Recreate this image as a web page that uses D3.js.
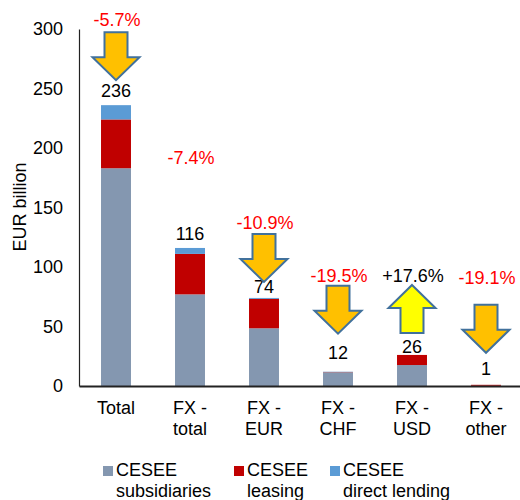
<!DOCTYPE html>
<html>
<head>
<meta charset="utf-8">
<script src="https://cdn.jsdelivr.net/npm/d3@7"></script>
<style>
  body { margin: 0; background: #fff; }
  text { font-family: "Liberation Sans", Arial, sans-serif; }
</style>
</head>
<body>
<svg></svg>
<script>
  let w = 520;
  let h = 500;

// Data
const categories = ['Total', 'FX - total', 'FX - EUR', 'FX - CHF', 'FX - USD', 'FX - other'];
const subsidiaries = [183, 77, 48.5, 11.6, 17.6, 0.2];
const leasing = [41, 34, 24.7, 0.2, 8.5, 0.8];
const directLending = [12, 5, 0.8, 0.2, 0, 0];
const totalLabels = ['236', '116', '74', '12', '26', '1'];
const changes = ['-5.7%', '-7.4%', '-10.9%', '-19.5%', '+17.6%', '-19.1%'];
const arrowDir = ['down', null, 'down', 'down', 'up', 'down'];
const yTicks = [0, 50, 100, 150, 200, 250, 300];
const seriesNames = ['CESEE subsidiaries', 'CESEE leasing', 'CESEE direct lending'];
const colors = ['#8497B0', '#C00000', '#5B9BD5'];

// label layout (pixels above bar top / above value label)
const labelGap = [14, 14, 11, 19, 8, 16];
const pctGap = [71, 76, 64, 77, 71, 91];
const arrowGap = [12, 0, 11, 10, 9, 27];

const svg = d3.select('svg')
  .attr('width', w)
  .attr('height', h);

const rows = categories.map((c, i) => ({
  cat: c, s0: subsidiaries[i], s1: leasing[i], s2: directLending[i]
}));

const stack = d3.stack().keys(['s0', 's1', 's2'])(rows);

// Scales
const x = d3.scaleBand()
  .domain(categories)
  .range([79, 523])
  .padding(0);

const barW = x.bandwidth() * 0.405;

const y = d3.scaleLinear()
  .domain([0, 300])
  .range([386, 29]);

// Bars
svg.selectAll('g.layer')
  .data(stack)
  .enter()
  .append('g')
  .attr('class', 'layer')
  .attr('fill', (d, i) => colors[i])
  .selectAll('rect')
  .data(d => d)
  .enter()
  .append('rect')
  .attr('x', d => x(d.data.cat) + (x.bandwidth() - barW) / 2)
  .attr('y', d => y(d[1]))
  .attr('width', barW)
  .attr('height', d => y(d[0]) - y(d[1]));

// Axes
const yAxis = d3.axisLeft(y).tickValues(yTicks).tickSize(0).tickPadding(16);
const gy = svg.append('g')
  .attr('transform', 'translate(79,0)')
  .call(yAxis);
gy.select('.domain').attr('stroke', '#222').attr('stroke-width', 1.2);
gy.selectAll('text')
  .style('font-size', '18px')
  .attr('fill', '#000');

const xAxis = d3.axisBottom(x).tickSize(0).tickFormat('');
const gx = svg.append('g')
  .attr('transform', 'translate(0,386)')
  .call(xAxis);
gx.select('.domain').attr('stroke', '#222').attr('stroke-width', 2);

// Category labels
categories.forEach(c => {
  const parts = c.includes(' - ') ? [c.split(' - ')[0] + ' -', c.split(' - ')[1]] : [c];
  const t = svg.append('text')
    .attr('x', x(c) + x.bandwidth() / 2)
    .attr('y', 414)
    .attr('text-anchor', 'middle')
    .style('font-size', '18px');
  parts.forEach((p, j) => {
    t.append('tspan')
      .attr('x', x(c) + x.bandwidth() / 2)
      .attr('dy', j === 0 ? 0 : 21)
      .text(p);
  });
});

// Y label
svg.append('text')
  .attr('transform', 'translate(26,207) rotate(-90)')
  .attr('text-anchor', 'middle')
  .style('font-size', '18px')
  .text('EUR billion');

// Value labels, arrows, changes
const totals = rows.map(r => r.s0 + r.s1 + r.s2);

categories.forEach((c, i) => {
  const cx = x(c) + x.bandwidth() / 2;
  const labelY = y(totals[i]) - labelGap[i];
  svg.append('text')
    .attr('x', cx)
    .attr('y', labelY)
    .attr('dy', '0.35em')
    .attr('text-anchor', 'middle')
    .style('font-size', '18px')
    .text(totalLabels[i]);

  const pctY = labelY - pctGap[i];
  svg.append('text')
    .attr('x', cx + 1)
    .attr('y', pctY)
    .attr('dy', '0.35em')
    .attr('text-anchor', 'middle')
    .style('font-size', '18px')
    .attr('fill', changes[i].startsWith('-') ? '#FF0000' : '#000')
    .text(changes[i]);

  if (arrowDir[i]) {
    const top = pctY + arrowGap[i];
    const aw = 47, ah = 48, sw = 23, hh = 23;
    let pts;
    if (arrowDir[i] === 'down') {
      pts = [
        [-sw / 2, 0], [sw / 2, 0], [sw / 2, ah - hh], [aw / 2, ah - hh],
        [0, ah], [-aw / 2, ah - hh], [-sw / 2, ah - hh]
      ];
    } else {
      pts = [
        [0, 0], [aw / 2, hh], [sw / 2, hh], [sw / 2, ah],
        [-sw / 2, ah], [-sw / 2, hh], [-aw / 2, hh]
      ];
    }
    svg.append('polygon')
      .attr('points', pts.map(p => [cx + p[0], top + p[1]].join(',')).join(' '))
      .attr('fill', arrowDir[i] === 'down' ? '#FFC000' : '#FFFF00')
      .attr('stroke', '#41719C')
      .attr('stroke-width', 2)
      .attr('stroke-linejoin', 'miter');
  }
});

// Legend
const legendX = [103, 234, 330];
seriesNames.forEach((name, i) => {
  const g = svg.append('g').attr('transform', 'translate(' + legendX[i] + ',466)');
  g.append('rect')
    .attr('width', 10)
    .attr('height', 10)
    .attr('fill', colors[i]);
  const words = name.split(' ');
  const t = g.append('text')
    .attr('x', 13)
    .attr('y', 4)
    .attr('dy', '0.35em')
    .style('font-size', '18px');
  t.append('tspan').attr('x', 13).text(words[0]);
  t.append('tspan').attr('x', 13).attr('dy', 21).text(words.slice(1).join(' '));
});
</script>
</body>
</html>
